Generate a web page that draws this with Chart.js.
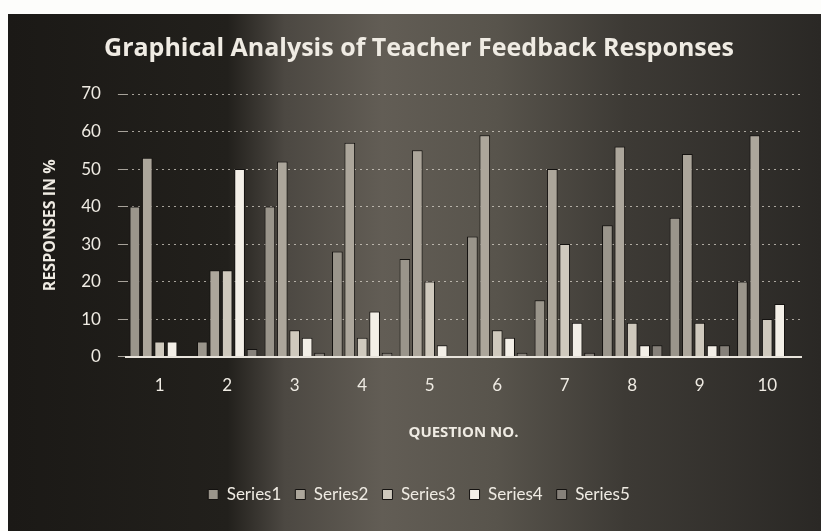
<!DOCTYPE html>
<html>
<head>
<meta charset="utf-8">
<script src="https://cdn.jsdelivr.net/npm/chart.js@4/dist/chart.umd.min.js"></script>
<style>
  html, body { margin: 0; padding: 0; background: #fdfdfb; }
  #wrap { position: absolute; left: 8px; top: 14px; width: 813px; height: 517px; }
</style>
</head>
<body>
<div id="wrap"><canvas id="chart"></canvas></div>
<script>
(function () {
  "use strict";

  // ── Data ──────────────────────────────────────────────────────
  var questions = ["1", "2", "3", "4", "5", "6", "7", "8", "9", "10"];
  var series1 = [40, 4, 40, 28, 26, 32, 15, 35, 37, 20];
  var series2 = [53, 23, 52, 57, 55, 59, 50, 56, 54, 59];
  var series3 = [4, 23, 7, 5, 20, 7, 30, 9, 9, 10];
  var series4 = [4, 50, 5, 12, 3, 5, 9, 3, 3, 14];
  var series5 = [0, 2, 1, 1, 0, 1, 1, 3, 3, 0];
  var seriesNames = ["Series1", "Series2", "Series3", "Series4", "Series5"];
  var yTicks = [0, 10, 20, 30, 40, 50, 60, 70];

  var ink = "#efebe3";
  var fills = ["#9a958b", "#aca69b", "#cfc9bd", "#f3efe7", "#86817a"];
  var all = [series1, series2, series3, series4, series5];

  // Dark photographed backdrop with the lighter band in the middle.
  var backdrop = {
    id: "backdrop",
    beforeDraw: function (chart) {
      var ctx = chart.ctx, w = chart.width, h = chart.height;
      var g = ctx.createLinearGradient(0, 0, w, 0);
      g.addColorStop(0, "#1b1916");
      g.addColorStop(0.27, "#22201c");
      g.addColorStop(0.34, "#4c4842");
      g.addColorStop(0.46, "#625d55");
      g.addColorStop(0.6, "#58544c");
      g.addColorStop(0.76, "#3d3a35");
      g.addColorStop(1, "#2a2825");
      ctx.save();
      ctx.fillStyle = g;
      ctx.fillRect(0, 0, w, h);
      ctx.restore();
    }
  };

  new Chart(document.getElementById("chart"), {
    type: "bar",
    data: {
      labels: questions,
      datasets: all.map(function (vals, i) {
        return {
          label: seriesNames[i],
          data: vals,
          backgroundColor: fills[i],
          borderColor: "#141210",
          borderWidth: 1,
          categoryPercentage: 0.92,
          barPercentage: 0.86
        };
      })
    },
    options: {
      responsive: true,
      maintainAspectRatio: false,
      animation: false,
      layout: { padding: { left: 29, right: 20, top: 4, bottom: 18 } },
      plugins: {
        title: {
          display: true,
          text: "Graphical Analysis of Teacher Feedback Responses",
          color: ink,
          font: { family: "Open Sans", size: 25, weight: "bold" },
          padding: { top: 16, bottom: 30 }
        },
        legend: {
          position: "bottom",
          labels: {
            color: ink,
            font: { family: "Lato", size: 17 },
            boxWidth: 10,
            boxHeight: 10,
            padding: 14
          }
        },
        tooltip: { enabled: false }
      },
      scales: {
        x: {
          grid: { display: false },
          border: { color: "#e8e4dc", width: 2, dash: [3, 2] },
          ticks: { color: ink, font: { family: "Lato", size: 17 }, padding: 11 },
          title: {
            display: true,
            text: "QUESTION NO.",
            color: ink,
            font: { family: "Open Sans", size: 15, weight: "bold" },
            padding: { top: 17, bottom: 30 }
          }
        },
        y: {
          min: 0,
          max: 70,
          afterBuildTicks: function (axis) {
            axis.ticks = yTicks.map(function (v) { return { value: v }; });
          },
          grid: { color: "rgba(225,220,210,0.7)", lineWidth: 1 },
          border: { display: false, dash: [2, 4] },
          ticks: { color: ink, font: { family: "Lato", size: 17 }, padding: 17 },
          title: {
            display: true,
            text: "RESPONSES IN %",
            color: ink,
            font: { family: "Open Sans", size: 16, weight: "bold" },
            padding: { top: 4, bottom: 4 }
          }
        }
      }
    },
    plugins: [backdrop]
  });
})();
</script>
</body>
</html>
